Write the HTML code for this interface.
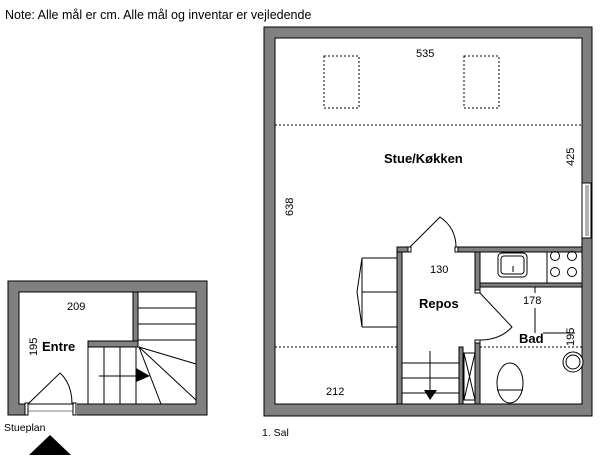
<!DOCTYPE html>
<html><head><meta charset="utf-8"><style>
html,body{margin:0;padding:0;background:#fff;}
svg{display:block;font-family:"Liberation Sans",sans-serif;}
</style></head><body>
<svg width="600" height="461" viewBox="0 0 600 461" xmlns="http://www.w3.org/2000/svg">
<text x="5" y="19" font-size="12.5">Note: Alle mål er cm. Alle mål og inventar er vejledende</text>

<!-- Stueplan -->
<g stroke="#000" stroke-width="1">
<path d="M8 281H207V415H8Z M19 292V404H196V292Z" fill="#808080" fill-rule="evenodd"/>
<rect x="133" y="292" width="5" height="55" fill="#808080"/>
<rect x="88" y="341" width="50" height="6" fill="#808080"/>
<rect x="25" y="403" width="52" height="13" fill="#fff" stroke="none"/>
<rect x="25" y="403" width="3" height="12" fill="#fff"/>
<rect x="73" y="403" width="3" height="12" fill="#fff"/>
<line x1="28" y1="404" x2="73" y2="404"/>
<line x1="28" y1="411" x2="73" y2="411" stroke-width="0.6"/>
<path d="M28 404 L60 373 Q72 384 72 404" fill="none"/>
<line x1="138" y1="308" x2="196" y2="308"/>
<line x1="138" y1="324" x2="196" y2="324"/>
<line x1="138" y1="340" x2="196" y2="340"/>
<line x1="88" y1="347" x2="88" y2="404"/>
<line x1="104" y1="347" x2="104" y2="404"/>
<line x1="120" y1="347" x2="120" y2="404"/>
<line x1="136" y1="347" x2="136" y2="404"/>
<line x1="139" y1="347" x2="161" y2="404"/>
<line x1="139" y1="347" x2="196" y2="400"/>
<line x1="139" y1="347" x2="196" y2="364"/>
<line x1="99" y1="376" x2="137" y2="376"/>
</g>
<polygon points="136,368 150,376 136,382" fill="#000"/>
<text x="67" y="310" font-size="11">209</text>
<text x="42" y="351" font-size="13" font-weight="bold">Entre</text>
<text transform="translate(37,356) rotate(-90)" font-size="11">195</text>
<text x="4" y="431" font-size="10.5">Stueplan</text>
<polygon points="29,455 50,435 71,455" fill="#000"/>

<!-- 1. Sal -->
<g stroke="#000" stroke-width="1">
<path d="M264 27H592V416H264Z M275 38V404H582V38Z" fill="#808080" fill-rule="evenodd"/>
<rect x="582" y="183" width="9" height="55" fill="#fff"/>
<line x1="586" y1="185" x2="586" y2="236" stroke-width="0.6"/>
<line x1="588" y1="185" x2="588" y2="236" stroke-width="0.6"/>
<g stroke-dasharray="2,2" fill="none">
<rect x="324" y="56" width="35" height="52"/>
<rect x="464" y="56" width="35" height="52"/>
<line x1="275" y1="125" x2="582" y2="125"/>
<line x1="275" y1="347" x2="397" y2="347"/>
<line x1="480" y1="347" x2="582" y2="347"/>
</g>
<rect x="397" y="247" width="5" height="157" fill="#808080"/>
<rect x="397" y="247" width="11" height="5" fill="#808080"/>
<rect x="458" y="247" width="124" height="5" fill="#808080"/>
<rect x="408" y="247" width="3" height="5" fill="#fff"/>
<rect x="455" y="247" width="3" height="5" fill="#fff"/>
<path d="M410 247 L440 217 Q456 228 456 247" fill="none"/>
<rect x="475" y="252" width="5" height="41" fill="#808080"/>
<rect x="480" y="283" width="102" height="4" fill="#808080"/>
<rect x="475" y="340" width="5" height="64" fill="#808080"/>
<rect x="475" y="290" width="5" height="3" fill="#fff"/>
<rect x="475" y="340" width="5" height="3" fill="#fff"/>
<path d="M480 293 L512 327 Q500 340 480 340" fill="none"/>
<rect x="480" y="252" width="102" height="31" fill="#fff"/>
<line x1="547" y1="252" x2="547" y2="283"/>
<rect x="498" y="253" width="29" height="24" rx="4" fill="none"/>
<rect x="501" y="256" width="23" height="18" rx="3" fill="none"/>
<line x1="513" y1="266" x2="513" y2="272"/>
<circle cx="555" cy="256" r="4.5" fill="none"/>
<circle cx="572" cy="256" r="4.5" fill="none"/>
<circle cx="555" cy="272" r="4.5" fill="none"/>
<circle cx="572" cy="272" r="4.5" fill="none"/>
<line x1="535" y1="287" x2="535" y2="293"/>
<line x1="535" y1="308" x2="535" y2="333"/>
<line x1="543" y1="333" x2="575" y2="333"/>
<path d="M362 258 H397 M362 292 H397 M362 327 H397 M362 258 L357 292 L362 327 Z" fill="none"/>
<line x1="402" y1="363" x2="459" y2="363"/>
<line x1="402" y1="378" x2="459" y2="378"/>
<line x1="402" y1="393" x2="459" y2="393"/>
<line x1="430" y1="351" x2="430" y2="392"/>
<rect x="459" y="347" width="4" height="57" fill="#808080"/>
<rect x="464" y="353" width="11" height="47" fill="#fff"/>
<line x1="464" y1="353" x2="475" y2="400"/>
<line x1="475" y1="353" x2="464" y2="400"/>
<ellipse cx="510" cy="383" rx="13" ry="20" fill="#fff"/>
<line x1="497" y1="390" x2="523" y2="390"/>
<circle cx="573" cy="362" r="10" fill="#fff"/>
<circle cx="573" cy="362" r="7" fill="none"/>
</g>
<polygon points="424,390 437,390 430,400" fill="#000"/>
<text x="416" y="57" font-size="11">535</text>
<text x="384" y="163" font-size="13" font-weight="bold">Stue/Køkken</text>
<text transform="translate(574,166) rotate(-90)" font-size="11">425</text>
<text transform="translate(293,216) rotate(-90)" font-size="11">638</text>
<text x="430" y="273" font-size="11">130</text>
<text x="419" y="308" font-size="13" font-weight="bold">Repos</text>
<text x="523" y="304" font-size="11">178</text>
<text x="519" y="343" font-size="13" font-weight="bold">Bad</text>
<text transform="translate(574,346) rotate(-90)" font-size="11">195</text>
<text x="326" y="395" font-size="11">212</text>
<text x="262" y="436" font-size="10.5">1. Sal</text>
</svg>
</body></html>
